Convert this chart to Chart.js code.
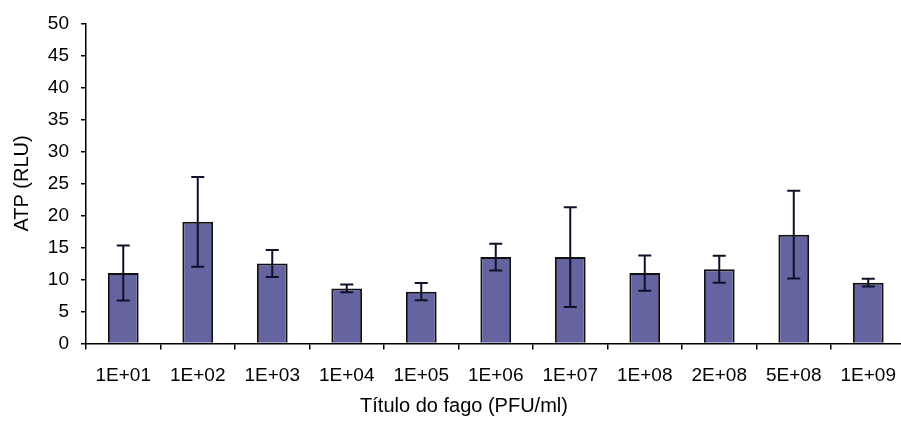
<!DOCTYPE html>
<html>
<head>
<meta charset="utf-8">
<title>ATP (RLU) por título do fago</title>
<script src="https://cdn.jsdelivr.net/npm/chart.js@4/dist/chart.umd.min.js"></script>
<style>
  html, body { margin: 0; padding: 0; background: #fff; overflow: hidden; }
  #wrap { position: relative; width: 911px; height: 430px; }
</style>
</head>
<body>
<div id="wrap"><canvas id="c"></canvas></div>
<script>
// Phage titre categories and ATP readings (mean ± standard deviation)
const titres = ['1E+01', '1E+02', '1E+03', '1E+04', '1E+05', '1E+06', '1E+07', '1E+08', '2E+08', '5E+08', '1E+09'];
const atpMean = [11.0, 19.0, 12.5, 8.6, 8.1, 13.5, 13.5, 11.0, 11.6, 17.0, 9.5];
const atpSd = [4.3, 7.0, 2.1, 0.6, 1.35, 2.1, 7.8, 2.75, 2.1, 6.85, 0.6];

const yTitle = 'ATP (RLU)';
const xTitle = 'Título do fago (PFU/ml)';
const FONT = '"Liberation Sans", Arial, sans-serif';

// Draws the ± SD whiskers with caps over each bar
const errorBars = {
  id: 'errorBars',
  afterDatasetsDraw(chart) {
    const { ctx } = chart;
    const y = chart.scales.y;
    const meta = chart.getDatasetMeta(0);
    ctx.save();
    ctx.strokeStyle = '#10102a';
    ctx.lineWidth = 2;
    meta.data.forEach((bar, i) => {
      const x = bar.x;
      const hi = y.getPixelForValue(atpMean[i] + atpSd[i]);
      const lo = y.getPixelForValue(atpMean[i] - atpSd[i]);
      const cap = 6.5;
      ctx.beginPath();
      ctx.moveTo(x, hi); ctx.lineTo(x, lo);
      ctx.moveTo(x - cap, hi); ctx.lineTo(x + cap, hi);
      ctx.moveTo(x - cap, lo); ctx.lineTo(x + cap, lo);
      ctx.stroke();
    });
    ctx.restore();
  }
};

// Horizontal axis title, placed under the tick labels
const xAxisTitle = {
  id: 'xAxisTitle',
  afterDraw(chart) {
    const { ctx } = chart;
    ctx.save();
    ctx.font = '20px ' + FONT;
    ctx.fillStyle = '#000';
    ctx.textAlign = 'center';
    ctx.textBaseline = 'middle';
    ctx.fillText(xTitle, 464, 406);
    ctx.restore();
  }
};

new Chart(document.getElementById('c'), {
  type: 'bar',
  data: {
    labels: titres,
    datasets: [{
      data: atpMean,
      backgroundColor: '#6464a0',
      borderColor: '#111',
      borderWidth: 2,
      barPercentage: 0.413,
      categoryPercentage: 1.0
    }]
  },
  options: {
    responsive: true,
    maintainAspectRatio: false,
    animation: false,
    events: [],
    layout: { padding: { top: 16, left: 0, right: 0, bottom: 0 } },
    plugins: {
      legend: { display: false },
      tooltip: { enabled: false }
    },
    scales: {
      x: {
        offset: true,
        afterFit(scale) { scale.height = 86.5; },
        border: { display: true, color: '#000', width: 1.5 },
        grid: { offset: true, drawOnChartArea: false, drawTicks: true, tickLength: 6, color: '#000', tickColor: '#000', lineWidth: 1.5 },
        ticks: { color: '#000', font: { family: FONT, size: 19 }, padding: 15, maxRotation: 0, autoSkip: false }
      },
      y: {
        min: 0,
        max: 50,
        afterFit(scale) { scale.width = 86; },
        border: { display: true, color: '#000', width: 1.5 },
        grid: { drawOnChartArea: false, drawTicks: true, tickLength: 5, color: '#000', tickColor: '#000', lineWidth: 1.5 },
        ticks: { stepSize: 5, color: '#000', font: { family: FONT, size: 19 }, padding: 12 },
        title: { display: true, text: yTitle, color: '#000', font: { family: FONT, size: 20 }, padding: { top: 10, bottom: 0 } }
      }
    }
  },
  plugins: [errorBars, xAxisTitle]
});
</script>
</body>
</html>
